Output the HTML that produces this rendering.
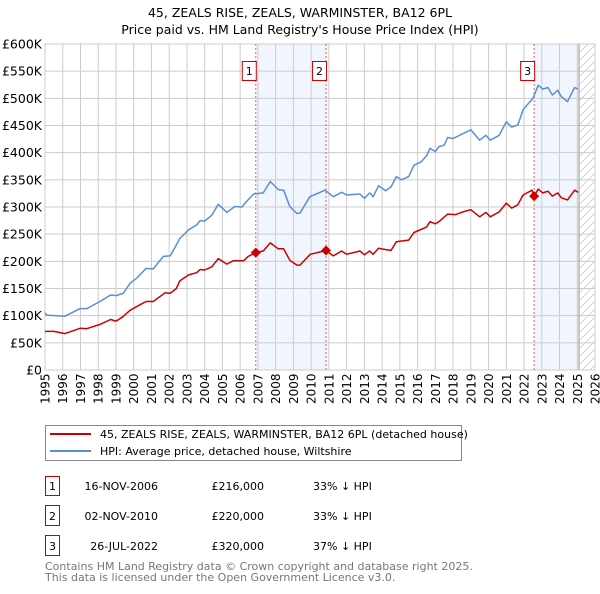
<!DOCTYPE html>
<html><head><meta charset="utf-8"><style>
body{margin:0;background:#fff;width:600px;height:590px;overflow:hidden;font-family:"DejaVu Sans","Liberation Sans",sans-serif;}
svg text{font-family:"DejaVu Sans","Liberation Sans",sans-serif;}
</style></head><body>
<svg id="chart" width="600" height="590" xmlns="http://www.w3.org/2000/svg">
<text x="300" y="17" text-anchor="middle" font-size="12.5">45, ZEALS RISE, ZEALS, WARMINSTER, BA12 6PL</text>
<text x="300" y="34" text-anchor="middle" font-size="12.5">Price paid vs. HM Land Registry's House Price Index (HPI)</text>
<g id="plot"></g>
<g>
<rect x="45.5" y="425.5" width="416" height="35" fill="#fff" stroke="#888"/>
<line x1="50" y1="434" x2="91" y2="434" stroke="#cc0000" stroke-width="2"/>
<text x="100" y="438" font-size="11">45, ZEALS RISE, ZEALS, WARMINSTER, BA12 6PL (detached house)</text>
<line x1="50" y1="451" x2="91" y2="451" stroke="#5b8fd4" stroke-width="2"/>
<text x="100" y="455" font-size="11">HPI: Average price, detached house, Wiltshire</text>
</g>
<g font-size="11">
<rect x="45.5" y="476.5" width="14" height="19" fill="#fff" stroke="#cc0000"/><text x="52.5" y="490" text-anchor="middle">1</text>
<text x="158" y="490" text-anchor="end">16-NOV-2006</text><text x="264" y="490" text-anchor="end">£216,000</text><text x="313" y="490">33% ↓ HPI</text>
<rect x="45.5" y="505.5" width="14" height="20" fill="#fff" stroke="#cc0000"/><text x="52.5" y="520" text-anchor="middle">2</text>
<text x="158" y="520" text-anchor="end">02-NOV-2010</text><text x="264" y="520" text-anchor="end">£220,000</text><text x="313" y="520">33% ↓ HPI</text>
<rect x="45.5" y="535.5" width="14" height="20" fill="#fff" stroke="#cc0000"/><text x="52.5" y="550" text-anchor="middle">3</text>
<text x="158" y="550" text-anchor="end">26-JUL-2022</text><text x="264" y="550" text-anchor="end">£320,000</text><text x="313" y="550">37% ↓ HPI</text>
</g>
<text x="45" y="570" font-size="11" fill="#777">Contains HM Land Registry data © Crown copyright and database right 2025.</text>
<text x="45" y="581" font-size="11" fill="#777">This data is licensed under the Open Government Licence v3.0.</text>
</svg>
<script>
const hpiYears=[1995,1995.1,1996.13,1996.97,1997.35,1998.1,1998.7,1999,1999.4,1999.8,2000.17,2000.7,2001.1,2001.67,2002.05,2002.3,2002.6,2003.1,2003.55,2003.74,2004,2004.4,2004.77,2005.25,2005.7,2006.1,2006.35,2006.75,2007.3,2007.7,2008.15,2008.45,2008.8,2009.2,2009.37,2009.93,2010.78,2011.25,2011.72,2012,2012.75,2013,2013.3,2013.5,2013.8,2014.2,2014.5,2014.8,2015.1,2015.5,2015.8,2016.2,2016.5,2016.7,2017,2017.2,2017.5,2017.7,2018,2018.55,2019,2019.5,2019.85,2020.1,2020.6,2021,2021.3,2021.65,2021.95,2022.5,2022.8,2023.05,2023.35,2023.6,2023.9,2024.1,2024.45,2024.85,2025.05];
const hpiValues=[105,101,99,113,113,126,138,137,141,160,169,187,186,209,210,224,242,258,267,275,274,285,305,290,301,300,310,324,326,347,332,331,301,288,289,319,331,319,327,322,324,316,326,319,339,330,337,356,350,356,377,383,394,408,402,411,414,428,426,435,442,423,432,423,432,457,447,451,479,500,524,517,520,506,515,503,494,520,517];
const ppYears=[1995,1995.5,1996.13,1997,1997.35,1998.1,1998.7,1999,1999.35,1999.8,2000.4,2000.7,2001.1,2001.77,2002.05,2002.4,2002.6,2003.1,2003.55,2003.74,2004,2004.4,2004.77,2005.25,2005.6,2006.2,2006.45,2006.88,2007.3,2007.7,2008.15,2008.45,2008.8,2009.2,2009.37,2009.95,2010.84,2011.25,2011.72,2012,2012.75,2013,2013.3,2013.5,2013.8,2014.5,2014.8,2015.5,2015.8,2016.5,2016.7,2017,2017.2,2017.7,2018.15,2018.55,2019,2019.5,2019.85,2020.1,2020.6,2021,2021.3,2021.65,2021.95,2022.45,2022.57,2022.8,2023.05,2023.35,2023.6,2023.9,2024.1,2024.45,2024.85,2025.05];
const ppValues=[71,71,67,77,76,84,93,90,97,110,121,126,126,142,141,150,164,175,179,185,184,190,205,195,201,201,209,216,219,234,223,223,202,193,193,213,220,210,219,213,219,212,219,213,224,220,236,239,253,263,273,269,273,287,286,291,295,282,290,282,291,307,298,304,322,331,320,333,326,329,320,326,317,313,331,327];
const saleLabels=["1","2","3"];
const saleYears=[2006.88,2010.84,2022.57];
const saleValues=[216,220,320];
const yTicks=[0,50,100,150,200,250,300,350,400,450,500,550,600];
const yTickLabels=["£0","£50K","£100K","£150K","£200K","£250K","£300K","£350K","£400K","£450K","£500K","£550K","£600K"];
const xTicks=[1995,1996,1997,1998,1999,2000,2001,2002,2003,2004,2005,2006,2007,2008,2009,2010,2011,2012,2013,2014,2015,2016,2017,2018,2019,2020,2021,2022,2023,2024,2025,2026];
const dataEnd=2025.1;

const X0=45,X1=595,Y0=370,Y1=44;
const x=v=>X0+(v-1995)/(2026-1995)*(X1-X0);
const y=v=>Y0-v/600*(Y0-Y1);
const NS="http://www.w3.org/2000/svg";
const g=document.getElementById('plot');
function mk(t,a,p){const e=document.createElementNS(NS,t);for(const k in a)e.setAttribute(k,a[k]);(p||g).appendChild(e);return e;}

let s=mk('rect',{x:x(saleYears[0]),y:Y1,width:x(saleYears[1])-x(saleYears[0]),height:Y0-Y1,fill:'#eef3fc',opacity:0.8});


s=mk('rect',{x:x(saleYears[2]),y:Y1,width:x(dataEnd)-x(saleYears[2]),height:Y0-Y1,fill:'#eef3fc',opacity:0.8});


const defs=mk('defs',{});
const pat=mk('pattern',{id:'hatch',width:8,height:8,patternUnits:'userSpaceOnUse'},defs);
mk('line',{x1:0,y1:8,x2:8,y2:0,stroke:'#ccc','stroke-width':0.8},pat);
s=mk('rect',{x:x(dataEnd),y:Y1,width:X1-x(dataEnd),height:Y0-Y1,fill:'url(#hatch)'});



yTicks.forEach((t,i)=>{
 mk('line',{x1:X0,x2:X1,y1:y(t),y2:y(t),stroke:'#ccc','stroke-width':1});
 const tx=mk('text',{x:X0-3,y:y(t)+4.5,'text-anchor':'end','font-size':12.5});
 tx.textContent=yTickLabels[i];
 
 
});
xTicks.forEach(t=>{
 mk('line',{x1:x(t),x2:x(t),y1:Y1,y2:Y0,stroke:'#ccc','stroke-width':1});
 const tx=mk('text',{x:0,y:0,'font-size':12,transform:`translate(${x(t)+4.5},${Y0+34}) rotate(-90)`});
 tx.textContent=t;
 
 
});
mk('rect',{x:X0,y:Y1,width:X1-X0,height:Y0-Y1,fill:'none',stroke:'#ccc'});
mk('line',{x1:x(dataEnd),x2:x(dataEnd),y1:Y1,y2:Y0,stroke:'#999','stroke-width':1});

saleYears.forEach((sy,i)=>{
 mk('line',{x1:x(sy),x2:x(sy),y1:Y1,y2:Y0,stroke:'#e06060','stroke-width':1,'stroke-dasharray':'2,2'});
 const r=mk('rect',{x:x(sy)-13.5,y:61.5,width:14,height:19,fill:'#fff',stroke:'#cc0000'});
 
 
 const t=mk('text',{x:x(sy)-6.5,y:75,'text-anchor':'middle','font-size':11});
 t.textContent=saleLabels[i];
});

const pts=(xs,vs)=>xs.map((v,i)=>x(v).toFixed(1)+','+y(vs[i]).toFixed(1)).join(' ');
let l=mk('polyline',{points:pts(hpiYears,hpiValues),fill:'none',stroke:'#5b8fd4','stroke-width':1.5,'stroke-linejoin':'round'});


l=mk('polyline',{points:pts(ppYears,ppValues),fill:'none',stroke:'#cc0000','stroke-width':1.5,'stroke-linejoin':'round'});


saleYears.forEach((sy,i)=>{
 const cx=x(sy),cy=y(saleValues[i]);
 const d=mk('polygon',{points:`${cx},${cy-5} ${cx+5},${cy} ${cx},${cy+5} ${cx-5},${cy}`,fill:'#cc0000'});
 
 
});
</script>
</body></html>
